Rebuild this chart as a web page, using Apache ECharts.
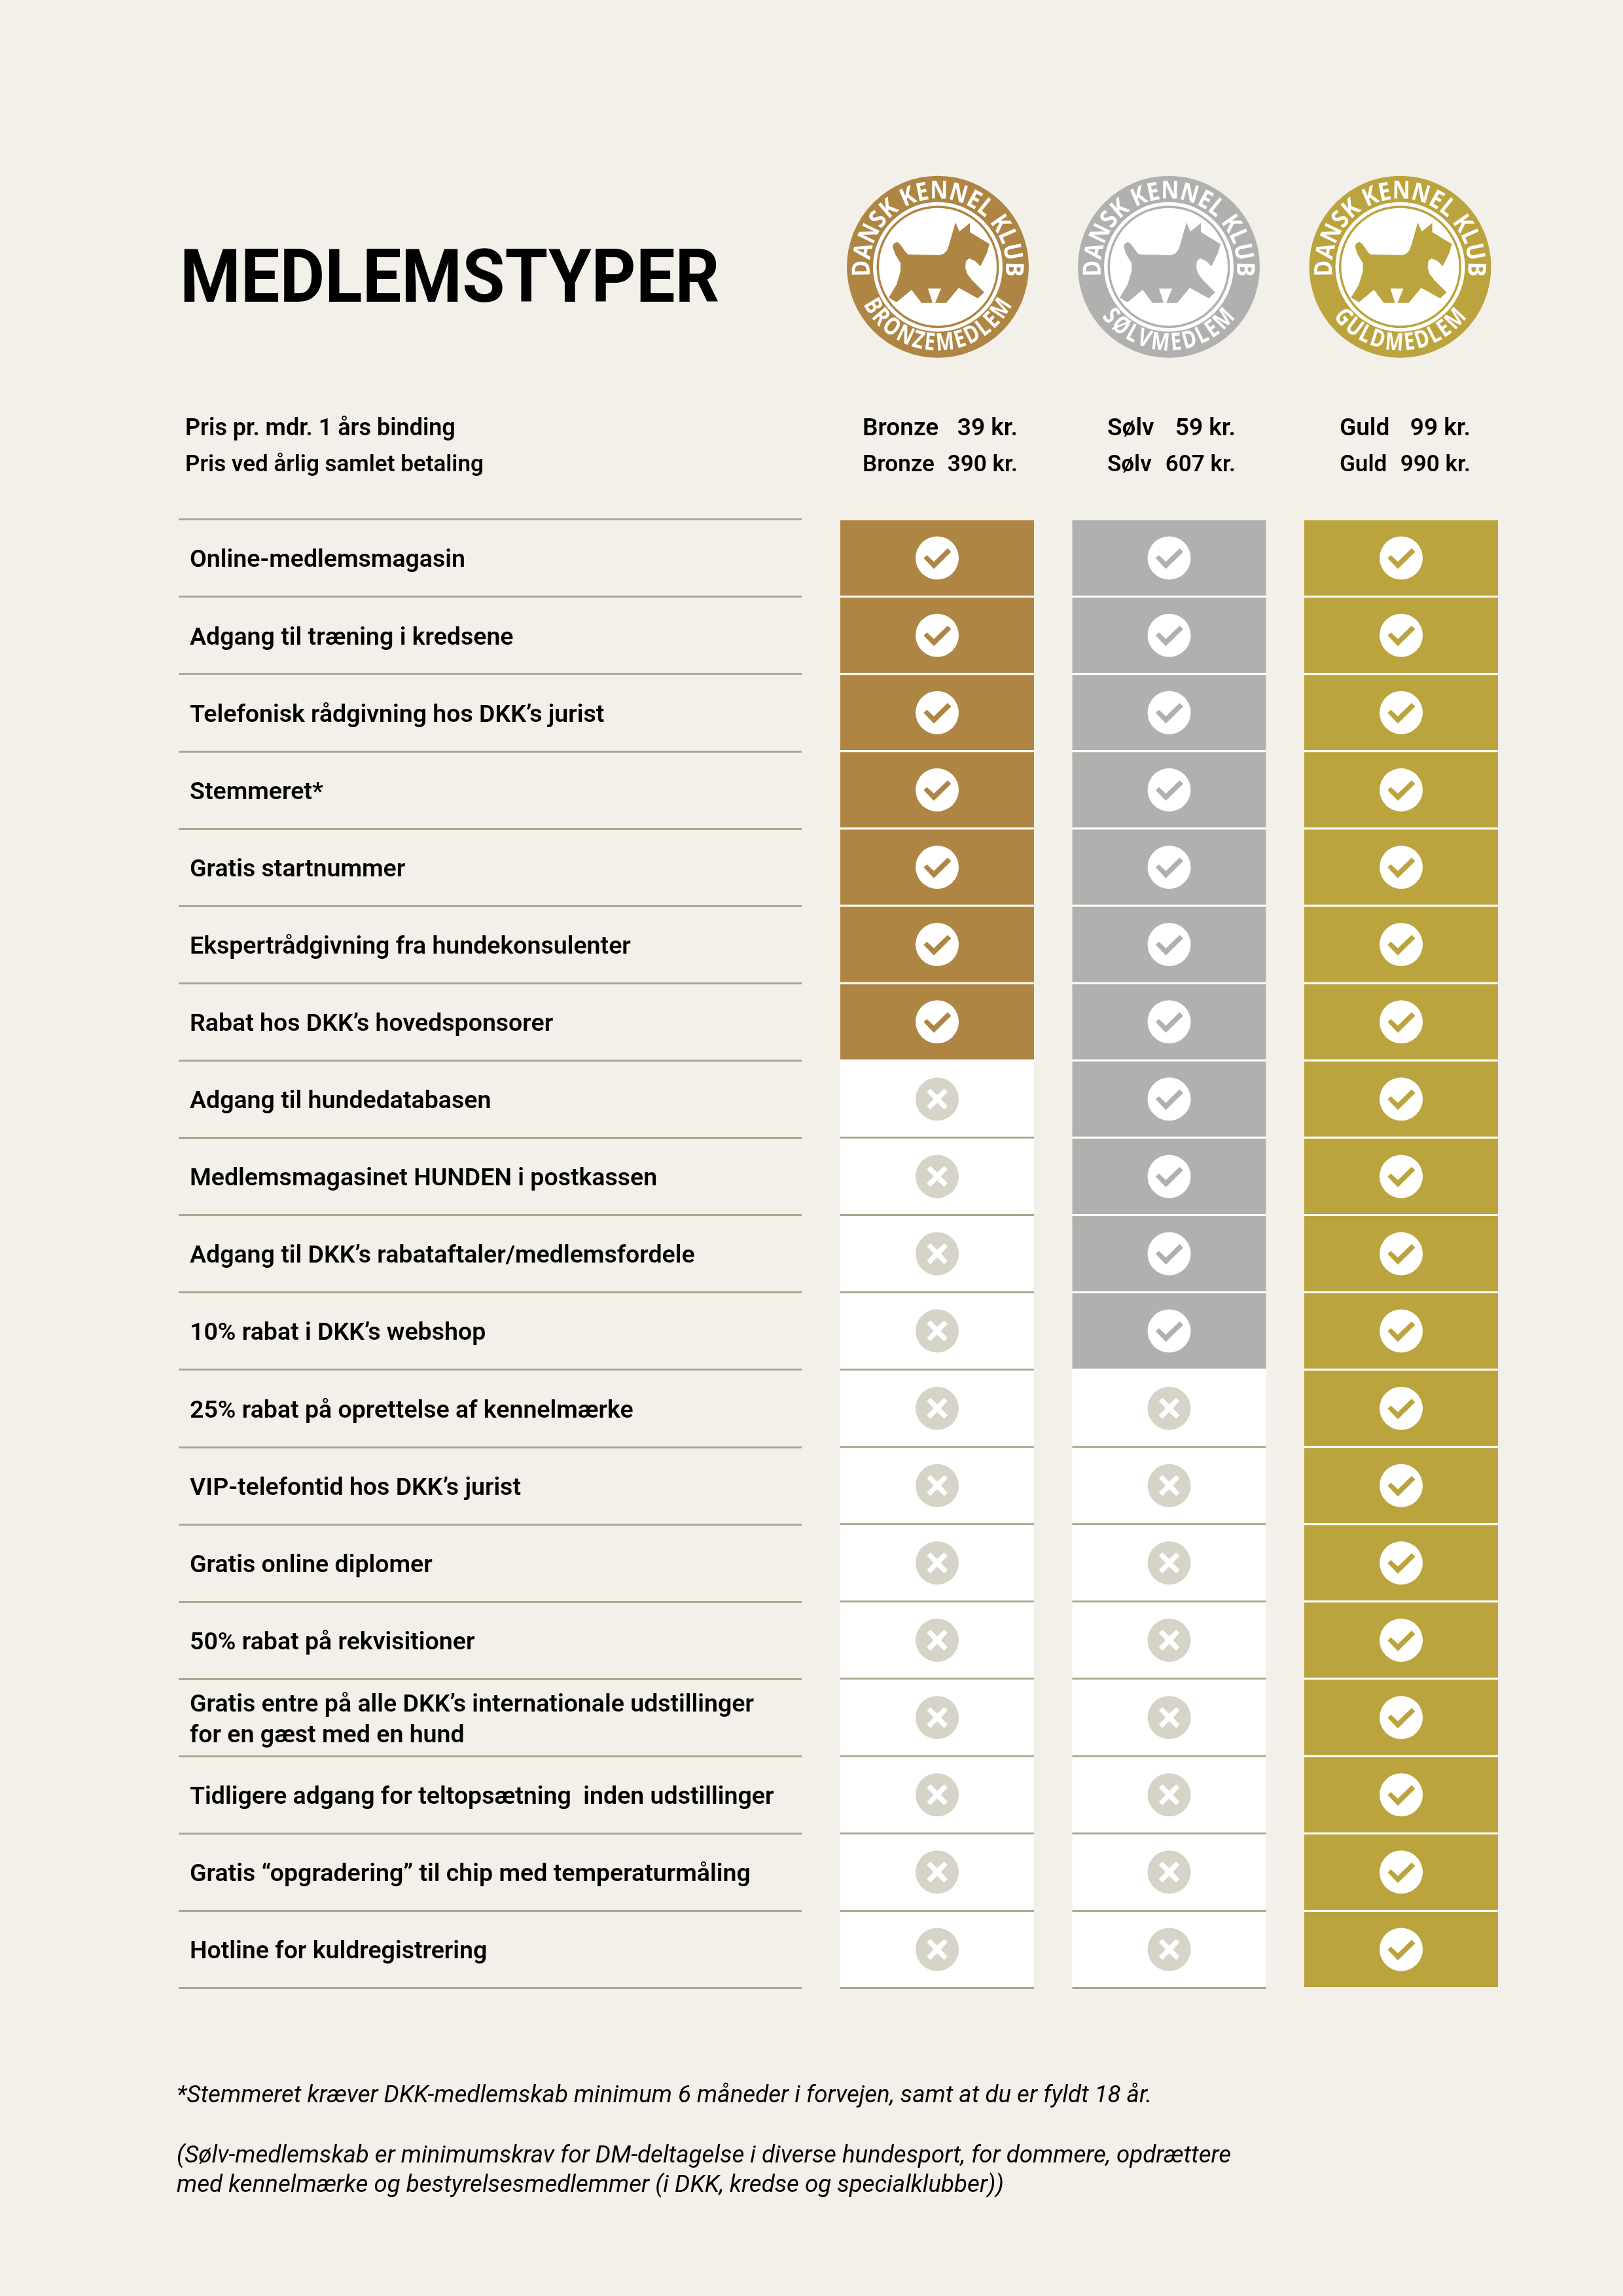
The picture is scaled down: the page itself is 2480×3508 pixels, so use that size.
<!DOCTYPE html>
<html>
<head>
<meta charset="utf-8">
<title>Medlemstyper</title>
<script src="https://cdn.jsdelivr.net/npm/echarts@6/dist/echarts.min.js"></script>
<style>
html, body { margin: 0; padding: 0; background: #f3f0e9; }
#main { width: 2480px; height: 3508px; }
</style>
</head>
<body>
<div id="main"></div>
<script>
var heading = "MEDLEMSTYPER";
var priceRowLabels = ["Pris pr. mdr. 1 års binding", "Pris ved årlig samlet betaling"];
var plans = ["Bronze", "Sølv", "Guld"];
var monthlyPrices = ["39 kr.", "59 kr.", "99 kr."];
var yearlyPrices = ["390 kr.", "607 kr.", "990 kr."];
var badgeNames = ["BRONZEMEDLEM", "SØLVMEDLEM", "GULDMEDLEM"];
var features = [
    "Online-medlemsmagasin",
    "Adgang til træning i kredsene",
    "Telefonisk rådgivning hos DKK’s jurist",
    "Stemmeret*",
    "Gratis startnummer",
    "Ekspertrådgivning fra hundekonsulenter",
    "Rabat hos DKK’s hovedsponsorer",
    "Adgang til hundedatabasen",
    "Medlemsmagasinet HUNDEN i postkassen",
    "Adgang til DKK’s rabataftaler/medlemsfordele",
    "10% rabat i DKK’s webshop",
    "25% rabat på oprettelse af kennelmærke",
    "VIP-telefontid hos DKK’s jurist",
    "Gratis online diplomer",
    "50% rabat på rekvisitioner",
    "Gratis entre på alle DKK’s internationale udstillinger\nfor en gæst med en hund",
    "Tidligere adgang for teltopsætning  inden udstillinger",
    "Gratis “opgradering” til chip med temperaturmåling",
    "Hotline for kuldregistrering"
];
var bronzeIncluded = [1,1,1,1,1,1,1,0,0,0,0,0,0,0,0,0,0,0,0];
var silverIncluded = [1,1,1,1,1,1,1,1,1,1,1,0,0,0,0,0,0,0,0];
var goldIncluded   = [1,1,1,1,1,1,1,1,1,1,1,1,1,1,1,1,1,1,1];
var footnotes = [
    "*Stemmeret kræver DKK-medlemskab minimum 6 måneder i forvejen, samt at du er fyldt 18 år.",
    "(Sølv-medlemskab er minimumskrav for DM-deltagelse i diverse hundesport, for dommere, opdrættere",
    "med kennelmærke og bestyrelsesmedlemmer (i DKK, kredse og specialklubber))"
];

var planColors = ["#ae8543", "#b0b0ae", "#bba33d"];
var crossCircle = "#d6d3c7";
var ruleColor = "#aca68f";
var bodyFont = "Roboto";

var checkShape = [[-20.7,0.3],[-15.7,-4.3],[-5,5.7],[16,-14.7],[21.4,-9.3],[-5,16.7]];
var crossShape = [[-15.7,-11],[-10.3,-16],[0,-6],[10.7,-16],[16,-11],[5.7,0],[16,10.7],[10.7,16],[0,5.7],[-10.3,16],[-15.7,10.7],[-5.4,0]];
// dog silhouette of the logo, relative to the badge centre
var dogShape = [[-69,-31],[-67,-36],[-62,-38],[-58,-35],[-53,-28],[-48,-21],[-45,-19],[3,-18],[9,-20],[14,-25],[17,-33],[27,-68],[33,-54],[49,-67],[49,-53],[79,-35],[75,-21],[65,-1],[57,-9],[48,-13],[43,-9],[42,1],[45,11],[53,21],[71,39],[61,48],[32,32],[13,55],[-4,55],[5,33],[-15,33],[-8,55],[-25,55],[-40,35],[-63,54],[-75,47],[-63,27],[-57,7],[-57,-6],[-65,-19]];

var cells = [];
[bronzeIncluded, silverIncluded, goldIncluded].forEach(function (list, p) {
    list.forEach(function (v, r) {
        cells.push([p, r, v]);
    });
});

function shifted(shape, cx, cy) {
    return shape.map(function (s) { return [cx + s[0], cy + s[1]]; });
}

function renderCell(params, api) {
    var plan = api.value(0), row = api.value(1), included = api.value(2);
    var c = api.coord([plan, row]);
    var h = api.size([1, 1])[1];
    var top = c[1] - h / 2;
    var color = planColors[plan];
    var kids = [{
        type: "rect",
        shape: { x: c[0] - 148, y: top + 1.5, width: 296, height: h - 3 },
        style: { fill: included ? color : "#fff" }
    }];
    if (!included || row < features.length - 1) {
        kids.push({
            type: "rect",
            shape: { x: c[0] - 148, y: top + h - 1.5, width: 296, height: 3 },
            style: { fill: included ? "#fff" : ruleColor }
        });
    }
    kids.push({
        type: "circle",
        shape: { cx: c[0], cy: c[1], r: 33 },
        style: { fill: included ? "#fff" : crossCircle }
    });
    kids.push({
        type: "polygon",
        shape: { points: shifted(included ? checkShape : crossShape, c[0], c[1]) },
        style: { fill: included ? color : "#fff" }
    });
    return { type: "group", children: kids };
}

var measure = document.createElement("canvas").getContext("2d");

// one text element per letter, spread over an arc; angles in degrees from the top or bottom
function arcText(str, cx, cy, r, spread, font, squeeze, bottom) {
    measure.font = font;
    var widths = str.split("").map(function (ch) { return measure.measureText(ch).width; });
    var total = widths.reduce(function (a, b) { return a + b; }, 0);
    var pos = 0, out = [];
    str.split("").forEach(function (ch, i) {
        var a = ((pos + widths[i] / 2) / total - 0.5) * spread * Math.PI / 180;
        pos += widths[i];
        if (ch === " ") return;
        out.push({
            type: "text",
            x: cx + r * Math.sin(a),
            y: bottom ? cy + r * Math.cos(a) : cy - r * Math.cos(a),
            rotation: bottom ? a : -a,
            scaleX: squeeze,
            style: { text: ch, font: font, fill: "#fff", align: "center", verticalAlign: "middle" }
        });
    });
    return out;
}

function badge(i, cx, cy, spreadBottom) {
    var color = planColors[i];
    return [
        { type: "circle", shape: { cx: cx, cy: cy, r: 139 }, style: { fill: color } },
        { type: "circle", shape: { cx: cx, cy: cy, r: 99 }, style: { fill: "#fff" } },
        { type: "circle", shape: { cx: cx, cy: cy, r: 93.5 }, style: { fill: color } },
        { type: "circle", shape: { cx: cx, cy: cy, r: 90 }, style: { fill: "#fff" } },
        { type: "polygon", shape: { points: shifted(dogShape, cx, cy), smooth: 0 }, style: { fill: color } }
    ].concat(
        arcText("DANSK KENNEL KLUB", cx, cy, 115, 196, "700 38px 'Open Sans'", 0.88, false),
        arcText(badgeNames[i], cx, cy, 117, spreadBottom, "700 37px 'Open Sans'", 0.8, true)
    );
}

function txt(str, x, y, size, weight, align, italic) {
    return {
        type: "text",
        x: x,
        y: y,
        style: {
            text: str,
            font: (italic ? "italic " : "") + weight + " " + size + "px " + bodyFont,
            fill: "#000",
            align: align || "left",
            verticalAlign: "middle"
        }
    };
}

var nameX = [1318, 1692, 2047];
var priceRight = [1555, 1888, 2247];
var graphics = [];
graphics = graphics.concat(badge(0, 1433, 407.7, 128), badge(1, 1786, 407.7, 108), badge(2, 2139.5, 407.7, 108));

var headingText = txt(heading, 275, 432, 114, 700);
headingText.scaleX = 0.93;
graphics.push(headingText);

graphics.push(txt(priceRowLabels[0], 283, 656, 36, 600));
graphics.push(txt(priceRowLabels[1], 283, 711, 35, 600));
plans.forEach(function (name, i) {
    graphics.push(txt(name, nameX[i], 656, 37, 600));
    graphics.push(txt(monthlyPrices[i], priceRight[i], 656, 37, 600, "right"));
    graphics.push(txt(name, nameX[i], 711, 35, 600));
    graphics.push(txt(yearlyPrices[i], priceRight[i], 711, 35, 600, "right"));
});
graphics.push(txt(footnotes[0], 270, 3203, 36.7, 400, "left", true));
graphics.push(txt(footnotes[1], 270, 3295, 36.7, 400, "left", true));
graphics.push(txt(footnotes[2], 270, 3340, 36.7, 400, "left", true));

var chart = echarts.init(document.getElementById("main"), null, { renderer: "canvas" });
chart.setOption({
    animation: false,
    backgroundColor: "#f3f0e9",
    grid: [
        { left: 273, width: 952, top: 793.5, height: 2244 },
        { left: 1254.75, width: 1063.5, top: 793.5, height: 2244 },
        // labels sit a little below the row middle, so they get their own grid
        { left: 273, width: 952, top: 798, height: 2244 }
    ],
    xAxis: [
        { gridIndex: 0, type: "value", show: false },
        { gridIndex: 1, type: "category", data: plans, show: false },
        { gridIndex: 2, type: "value", show: false }
    ],
    yAxis: [
        {
            gridIndex: 0,
            type: "category",
            inverse: true,
            data: features,
            axisLine: { show: false },
            axisTick: { show: false },
            axisLabel: { show: false },
            splitLine: { show: true, interval: 0, lineStyle: { color: ruleColor, width: 3 } }
        },
        { gridIndex: 1, type: "category", inverse: true, data: features, show: false },
        {
            gridIndex: 2,
            type: "category",
            inverse: true,
            data: features,
            axisLine: { show: false },
            axisTick: { show: false },
            splitLine: { show: false },
            axisLabel: {
                interval: 0,
                inside: true,
                margin: 17,
                align: "left",
                color: "#000",
                fontFamily: bodyFont,
                fontWeight: 600,
                fontSize: 37.5,
                lineHeight: 47
            }
        }
    ],
    graphic: graphics,
    series: [{
        type: "custom",
        xAxisIndex: 1,
        yAxisIndex: 1,
        clip: false,
        encode: { x: 0, y: 1 },
        data: cells,
        renderItem: renderCell
    }]
});
</script>
</body>
</html>
